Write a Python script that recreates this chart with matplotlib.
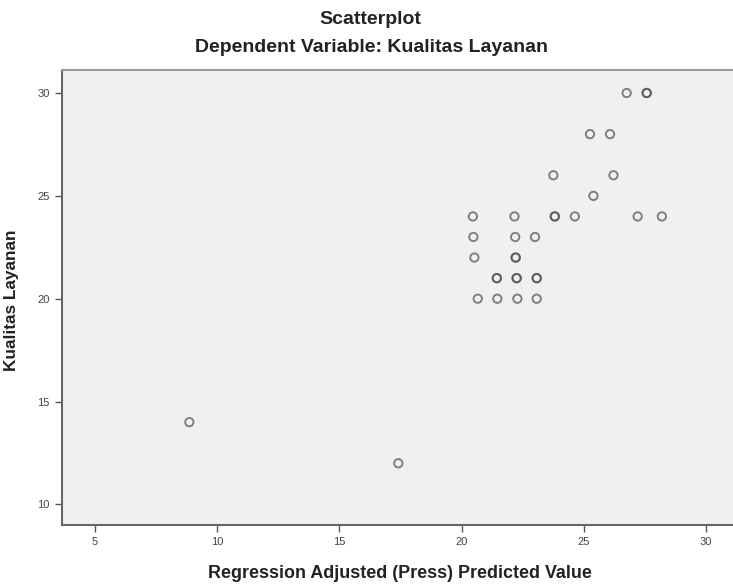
import matplotlib.pyplot as plt

# predicted values (x) and observed Kualitas Layanan (y); repeated pairs are overlapping cases
predicted = [8.86, 17.41,
             26.75, 27.57, 27.57,
             25.25, 26.07,
             23.75, 26.21,
             25.39,
             20.46, 22.16, 23.81, 23.81, 24.63, 27.20, 28.19,
             20.48, 22.19, 23.00,
             20.52, 22.21, 22.21,
             21.44, 21.44, 22.25, 22.25, 23.07, 23.07,
             20.66, 21.46, 22.28, 23.07]
kualitas = [14, 12,
            30, 30, 30,
            28, 28,
            26, 26,
            25,
            24, 24, 24, 24, 24, 24, 24,
            23, 23, 23,
            22, 22, 22,
            21, 21, 21, 21, 21, 21,
            20, 20, 20, 20]

x_ticks = [5, 10, 15, 20, 25, 30]
y_ticks = [10, 15, 20, 25, 30]

plt.rcParams['font.family'] = ['Liberation Sans', 'DejaVu Sans']

W, H = 733, 585
fig = plt.figure(figsize=(W / 100, H / 100), dpi=100)
ax = fig.add_axes([0.0842, 0.1026, 0.9158, 0.7778])
ax.set_facecolor('#f0f0f0')

ax.scatter(predicted, kualitas, s=36, facecolors='none', edgecolors='#505050',
           linewidths=1.4, alpha=0.7, zorder=3)

ax.set_xlim(3.64, 31.1)
ax.set_ylim(9.0, 31.12)
ax.set_xticks(x_ticks)
ax.set_yticks(y_ticks)
ax.tick_params(direction='out', length=5, width=1, color='#555555',
               labelsize=8, labelcolor='#444444')

ax.spines['right'].set_visible(False)
ax.spines['top'].set_color('#999999')
ax.spines['left'].set_color('#666666')
ax.spines['bottom'].set_color('#666666')
ax.spines['top'].set_linewidth(1.5)
ax.spines['left'].set_linewidth(1.5)
ax.spines['bottom'].set_linewidth(1.5)

# axis labels and titles placed by pixel position, measured on the reference
fig.text(400 / W, 1 - 573 / H, 'Regression Adjusted (Press) Predicted Value',
         ha='center', va='center', fontsize=12.9, fontweight='bold', color='#222222')
fig.text(12 / W, 1 - 300 / H, 'Kualitas Layanan', rotation=90,
         ha='center', va='center', fontsize=12.4, fontweight='bold', color='#222222')
fig.text(370 / W, 1 - 20 / H, 'Scatterplot', ha='center', va='center',
         fontsize=14, fontweight='bold', color='#222222')
fig.text(371 / W, 1 - 47 / H, 'Dependent Variable: Kualitas Layanan', ha='center',
         va='center', fontsize=14, fontweight='bold', color='#222222')

fig.savefig('out.png', dpi=100)
